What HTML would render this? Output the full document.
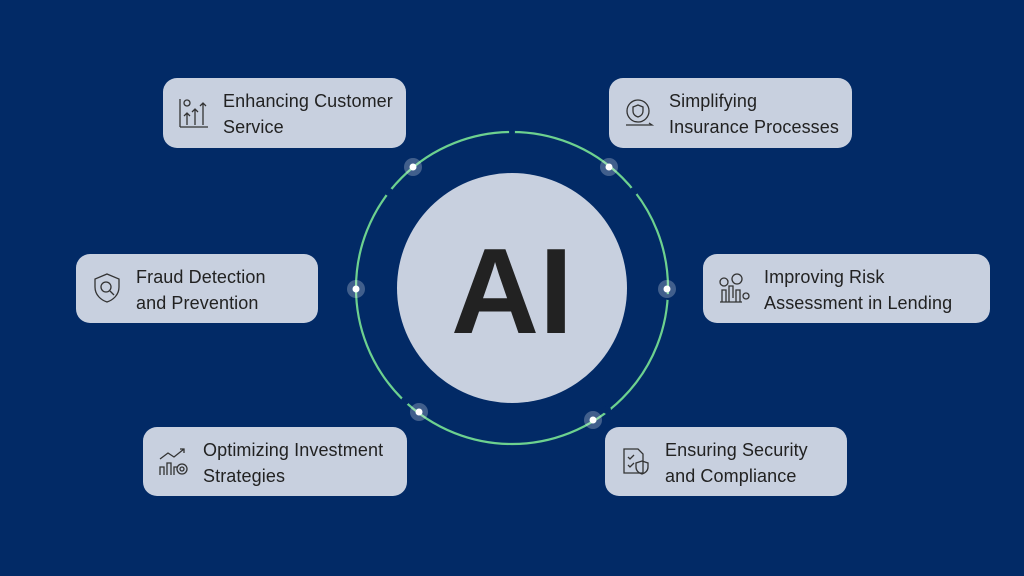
<!DOCTYPE html>
<html><head><style>
body{margin:0;width:1024px;height:576px;background:#022a66;overflow:hidden;position:relative;font-family:"Liberation Sans",sans-serif}
.b{position:absolute;background:#c8d0df;border-radius:14px;color:#222;font-size:18px;letter-spacing:0.1px;line-height:26px;box-sizing:border-box}
.b span{position:absolute;top:10px;white-space:nowrap}
.b svg{position:absolute}
</style></head><body>
<svg width="1024" height="576" style="position:absolute;left:0;top:0">
<circle cx="512" cy="288" r="156" fill="none" stroke="#6dd18f" stroke-width="2.2"/>
<g fill="#022a66">
<circle cx="512" cy="132" r="3"/>
<circle cx="389" cy="192" r="4"/>
<circle cx="634" cy="191" r="4"/>
<circle cx="405" cy="401" r="4"/>
<circle cx="607" cy="410" r="4"/>
<circle cx="668" cy="297" r="3"/>
</g>
<circle cx="512" cy="288" r="115" fill="#c8d0df"/>
<text x="512" y="333" text-anchor="middle" font-family="Liberation Sans" font-weight="bold" font-size="122" fill="#222">AI</text>
<g fill="#fff" fill-opacity="0.25">
<circle cx="413" cy="167" r="9"/><circle cx="609" cy="167" r="9"/><circle cx="356" cy="289" r="9"/><circle cx="667" cy="289" r="9"/><circle cx="419" cy="412" r="9"/><circle cx="593" cy="420" r="9"/>
</g>
<g fill="#fff">
<circle cx="413" cy="167" r="3.5"/><circle cx="609" cy="167" r="3.5"/><circle cx="356" cy="289" r="3.5"/><circle cx="667" cy="289" r="3.5"/><circle cx="419" cy="412" r="3.5"/><circle cx="593" cy="420" r="3.5"/>
</g>
</svg>

<div class="b" style="left:163px;top:78px;width:243px;height:70px">
<svg style="left:15px;top:19px" width="32" height="32" fill="none" stroke="#333" stroke-width="1.3"><line x1="2" y1="2" x2="2" y2="30"/><line x1="2" y1="30" x2="30" y2="30"/><circle cx="9" cy="6" r="3"/><path d="M9 28V16M6 19l3-3 3 3M17 28V12M14 15l3-3 3 3M25 28V6M22 9l3-3 3 3"/></svg>
<span style="left:60px">Enhancing Customer<br>Service</span></div>

<div class="b" style="left:609px;top:78px;width:243px;height:70px">
<svg style="left:15px;top:19px" width="32" height="32" fill="none" stroke="#333" stroke-width="1.3"><circle cx="14" cy="14" r="11"/><path d="M14 8l5 2v4c0 3-2 5-5 6-3-1-5-3-5-6v-4z"/><path d="M2 28h26l-3-2"/></svg>
<span style="left:60px">Simplifying<br>Insurance Processes</span></div>

<div class="b" style="left:76px;top:254px;width:242px;height:69px">
<svg style="left:15px;top:18px" width="32" height="32" fill="none" stroke="#333" stroke-width="1.3"><path d="M16 2l12 5v8c0 8-6 13-12 15C10 28 4 23 4 15V7z"/><circle cx="15" cy="15" r="5"/><line x1="19" y1="19" x2="23" y2="23"/></svg>
<span style="left:60px">Fraud Detection<br>and Prevention</span></div>

<div class="b" style="left:703px;top:254px;width:287px;height:69px">
<svg style="left:15px;top:18px" width="32" height="32" fill="none" stroke="#333" stroke-width="1.3"><circle cx="6" cy="10" r="4"/><circle cx="19" cy="7" r="5"/><path d="M2 30h22M4 30V18h4v12M11 30V14h4v12M18 30V18h4v12"/><circle cx="28" cy="24" r="3"/></svg>
<span style="left:61px">Improving Risk<br>Assessment in Lending</span></div>

<div class="b" style="left:143px;top:427px;width:264px;height:69px">
<svg style="left:15px;top:18px" width="32" height="32" fill="none" stroke="#333" stroke-width="1.3"><path d="M2 14l8-6 6 4 10-8M22 4h4v4"/><path d="M2 30V22h4v8M9 30V18h4v12M16 30V22h4"/><circle cx="24" cy="24" r="5"/><circle cx="24" cy="24" r="2"/></svg>
<span style="left:60px">Optimizing Investment<br>Strategies</span></div>

<div class="b" style="left:605px;top:427px;width:242px;height:69px">
<svg style="left:15px;top:18px" width="32" height="32" fill="none" stroke="#333" stroke-width="1.3"><path d="M4 4h14l5 5v19H4z"/><path d="M8 12l2 2 4-4M8 20l2 2 4-4"/><path d="M22 16l6 2v4c0 4-3 6-6 7-3-1-6-3-6-7v-4z"/></svg>
<span style="left:60px">Ensuring Security<br>and Compliance</span></div>
</body></html>
